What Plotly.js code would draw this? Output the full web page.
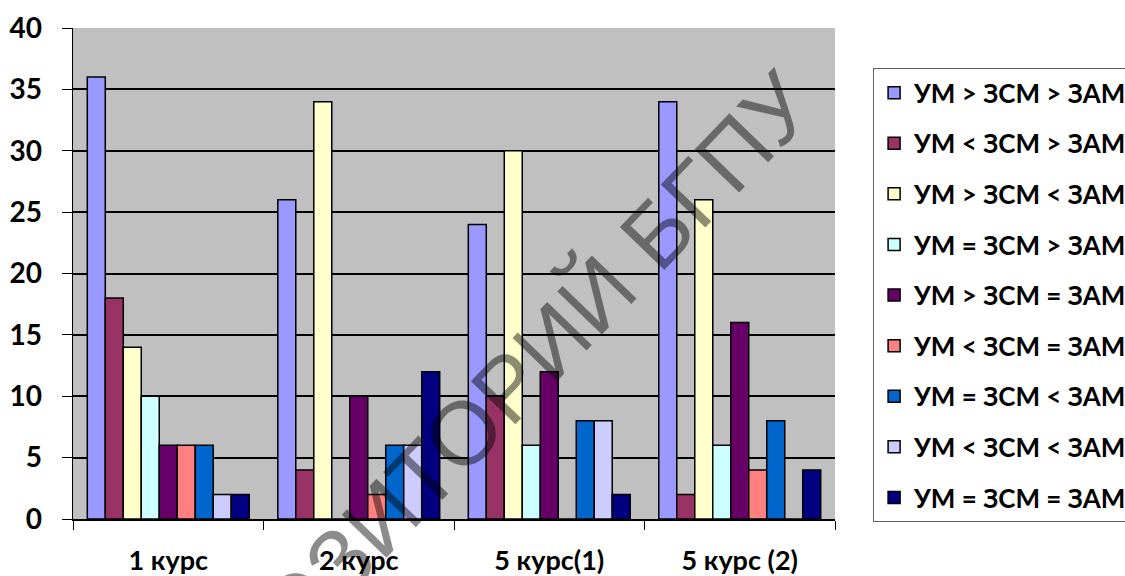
<!DOCTYPE html>
<html>
<head>
<meta charset="utf-8">
<script src="https://cdn.plot.ly/plotly-3.0.1.min.js"></script>
<style>html,body{margin:0;padding:0;background:#fff;}#chart{width:1125px;height:576px;}</style>
</head>
<body>
<div id="chart"></div>
<script>
const categories = ['1 курс', '2 курс', '5 курс(1)', '5 курс (2)'];
const seriesNames = [
  'УМ > ЗСМ > ЗАМ',
  'УМ < ЗСМ > ЗАМ',
  'УМ > ЗСМ < ЗАМ',
  'УМ = ЗСМ > ЗАМ',
  'УМ > ЗСМ = ЗАМ',
  'УМ < ЗСМ = ЗАМ',
  'УМ = ЗСМ < ЗАМ',
  'УМ < ЗСМ < ЗАМ',
  'УМ = ЗСМ = ЗАМ'
];
const s1 = [36, 26, 24, 34];
const s2 = [18, 4, 10, 2];
const s3 = [14, 34, 30, 26];
const s4 = [10, 0, 6, 6];
const s5 = [6, 10, 12, 16];
const s6 = [6, 2, 0, 4];
const s7 = [6, 6, 8, 8];
const s8 = [2, 6, 8, 0];
const s9 = [2, 12, 2, 4];
const seriesValues = [s1, s2, s3, s4, s5, s6, s7, s8, s9];
const colors = ['#9999FF', '#993366', '#FFFFCC', '#CCFFFF', '#660066', '#FF8080', '#0066CC', '#CCCCFF', '#000080'];
const yTicks = [0, 5, 10, 15, 20, 25, 30, 35, 40];

const FONT = 'Lato, "Open Sans", "DejaVu Sans", sans-serif';

const traces = seriesValues.map((vals, i) => ({
  type: 'bar',
  name: seriesNames[i],
  x: categories,
  y: vals,
  legendgroup: 'g' + i,
  marker: { color: colors[i], line: { color: '#000000', width: 1.5 } },
  hoverinfo: 'x+y+name'
}));

const layout = {
  width: 1125,
  height: 576,
  margin: { l: 73, r: 290, t: 28, b: 57, autoexpand: false },
  paper_bgcolor: '#ffffff',
  plot_bgcolor: '#C0C0C0',
  barmode: 'group',
  bargap: 0.15,
  bargroupgap: 0,
  showlegend: true,
  font: { family: FONT, color: '#000000' },
  xaxis: {
    type: 'category',
    showline: true,
    linecolor: '#000000',
    linewidth: 1.5,
    ticks: 'outside',
    tickson: 'boundaries',
    ticklen: 9,
    tickcolor: '#000000',
    tickwidth: 1,
    showgrid: false,
    ticklabelstandoff: 17,
    tickfont: { family: FONT, size: 27, weight: 'bold', color: '#000000' }
  },
  yaxis: {
    range: [0, 40],
    tickvals: yTicks,
    ticktext: yTicks.map(String),
    showline: true,
    linecolor: '#000000',
    linewidth: 1.5,
    ticks: 'outside',
    ticklen: 10,
    tickcolor: '#000000',
    tickwidth: 1,
    showgrid: true,
    gridcolor: '#000000',
    gridwidth: 2,
    zeroline: false,
    ticklabelstandoff: 14,
    tickfont: { family: FONT, size: 28, weight: 'bold', color: '#000000' }
  },
  legend: {
    x: 1.05,
    xanchor: 'left',
    y: 0.918,
    yanchor: 'top',
    bgcolor: '#ffffff',
    bordercolor: '#606060',
    borderwidth: 1,
    tracegroupgap: 13.8,
    traceorder: 'grouped',
    itemclick: false,
    font: { family: FONT, size: 26, weight: 'bold', color: '#000000' }
  },
  annotations: [{
    text: 'РЕПОЗИТОРИЙ БГПУ',
    xref: 'paper', yref: 'paper',
    x: (470 - 73) / 762,
    y: (519 - 425) / 491,
    xanchor: 'center', yanchor: 'middle',
    textangle: -46,
    showarrow: false,
    font: { family: '"Liberation Sans", Arial, sans-serif', size: 90, color: 'rgba(0,0,0,0.45)' }
  }]
};

Plotly.newPlot('chart', traces, layout, { displayModeBar: false, staticPlot: true });
</script>
</body>
</html>
